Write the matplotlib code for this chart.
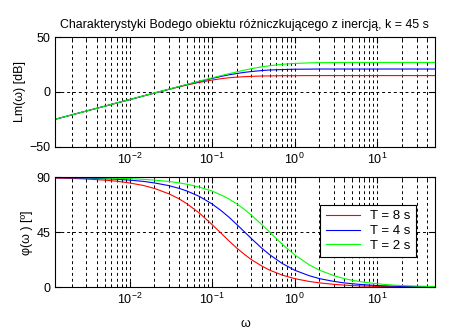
import matplotlib
matplotlib.use('Agg')
import matplotlib.pyplot as plt
from matplotlib.ticker import LogLocator, FixedLocator

plt.rcParams['font.family'] = ['Liberation Sans', 'DejaVu Sans']

# frequency points [rad/s]
omega = [0.00125, 0.002, 0.003, 0.005, 0.007, 0.01, 0.015, 0.02, 0.03, 0.04,
         0.05, 0.07, 0.1, 0.13, 0.16, 0.2, 0.25, 0.3, 0.4, 0.5, 0.7, 1.0,
         1.5, 2.0, 3.0, 4.0, 5.0, 7.0, 10.0, 15.0, 20.0, 30.0, 50.0]

# Lm(omega) [dB]
lm_T8 = [-25.0, -20.9, -17.4, -13.0, -10.1, -7.0, -3.5, -1.0, 2.4, 4.7,
         6.4, 8.8, 10.9, 12.2, 13.0, 13.6, 14.0, 14.3, 14.6, 14.7, 14.9, 14.9,
         15.0, 15.0, 15.0, 15.0, 15.0, 15.0, 15.0, 15.0, 15.0, 15.0, 15.0]
lm_T4 = [-25.0, -20.9, -17.4, -13.0, -10.0, -7.0, -3.4, -1.0, 2.5, 5.0,
         6.9, 9.6, 12.4, 14.3, 15.7, 16.9, 18.0, 18.7, 19.6, 20.1, 20.5, 20.8,
         20.9, 21.0, 21.0, 21.0, 21.0, 21.0, 21.0, 21.0, 21.0, 21.0, 21.0]
lm_T2 = [-25.0, -20.9, -17.4, -13.0, -10.0, -6.9, -3.4, -0.9, 2.6, 5.1,
         7.0, 9.9, 12.9, 15.1, 16.7, 18.4, 20.1, 21.3, 23.0, 24.0, 25.3, 26.1,
         26.6, 26.8, 26.9, 27.0, 27.0, 27.0, 27.0, 27.0, 27.0, 27.0, 27.0]

# phase phi(omega) [deg]
ph_T8 = [89.4, 89.1, 88.6, 87.7, 86.8, 85.4, 83.2, 80.9, 76.5, 72.3,
         68.2, 60.8, 51.3, 43.9, 38.0, 32.0, 26.6, 22.6, 17.4, 14.0, 10.1, 7.1,
         4.8, 3.6, 2.4, 1.8, 1.4, 1.0, 0.7, 0.5, 0.4, 0.2, 0.1]
ph_T4 = [89.7, 89.5, 89.3, 88.9, 88.4, 87.7, 86.6, 85.4, 83.2, 80.9,
         78.7, 74.4, 68.2, 62.5, 57.4, 51.3, 45.0, 39.8, 32.0, 26.6, 19.7, 14.0,
         9.5, 7.1, 4.8, 3.6, 2.9, 2.1, 1.4, 1.0, 0.7, 0.5, 0.3]
ph_T2 = [89.9, 89.8, 89.7, 89.4, 89.2, 88.9, 88.3, 87.7, 86.6, 85.4,
         84.3, 82.0, 78.7, 75.4, 72.3, 68.2, 63.4, 59.0, 51.3, 45.0, 35.5, 26.6,
         18.4, 14.0, 9.5, 7.1, 5.7, 4.1, 2.9, 1.9, 1.4, 1.0, 0.6]

labels = ['T = 8 s', 'T = 4 s', 'T = 2 s']
colors = ['#ff0000', '#0000ff', '#00ff00']

fig = plt.figure(figsize=(4.61, 3.30), dpi=100)
ax1 = fig.add_axes([0.1193, 0.5555, 0.824, 0.3315])
ax2 = fig.add_axes([0.1193, 0.1294, 0.824, 0.3333])

for lm, c in zip([lm_T8, lm_T4, lm_T2], colors):
    ax1.semilogx(omega, lm, color=c, lw=0.8)
for ph, c, lab in zip([ph_T8, ph_T4, ph_T2], colors, labels):
    ax2.semilogx(omega, ph, color=c, lw=0.8, label=lab)

for ax in (ax1, ax2):
    ax.set_xlim(omega[0], omega[-1])
    ax.xaxis.set_major_locator(LogLocator(base=10, numticks=10))
    ax.xaxis.set_minor_locator(LogLocator(base=10, subs=range(2, 10), numticks=20))
    ax.grid(True, which='both', axis='x', color='black', linestyle=(0, (3, 3)), lw=0.7)
    ax.grid(True, which='major', axis='y', color='black', linestyle=(0, (3, 3)), lw=0.7)
    ax.tick_params(which='both', direction='in', top=True, right=True, labelsize=9)
    ax.tick_params(which='major', length=4)
    ax.tick_params(which='minor', length=2)
    for s in ax.spines.values():
        s.set_linewidth(0.8)

ax1.set_ylim(-50, 50)
ax1.yaxis.set_major_locator(FixedLocator([-50, 0, 50]))
ax2.set_ylim(0, 90)
ax2.yaxis.set_major_locator(FixedLocator([0, 45, 90]))

ax1.set_title('Charakterystyki Bodego obiektu różniczkującego z inercją, k = 45 s',
              fontsize=8.9, pad=7)
ax1.set_ylabel('Lm(ω) [dB]', fontsize=9, labelpad=2)
ax2.set_ylabel('φ(ω ) [º]', fontsize=9, labelpad=2)
ax2.set_xlabel('ω', fontsize=9, labelpad=8)

leg = ax2.legend(loc='upper right', bbox_to_anchor=(0.968, 0.81), fontsize=9.5,
                 frameon=True, fancybox=False, edgecolor='black', framealpha=1,
                 handlelength=2.6, borderpad=0.4, labelspacing=0.2)
leg.get_frame().set_linewidth(0.8)

fig.savefig('out.png', dpi=100)
